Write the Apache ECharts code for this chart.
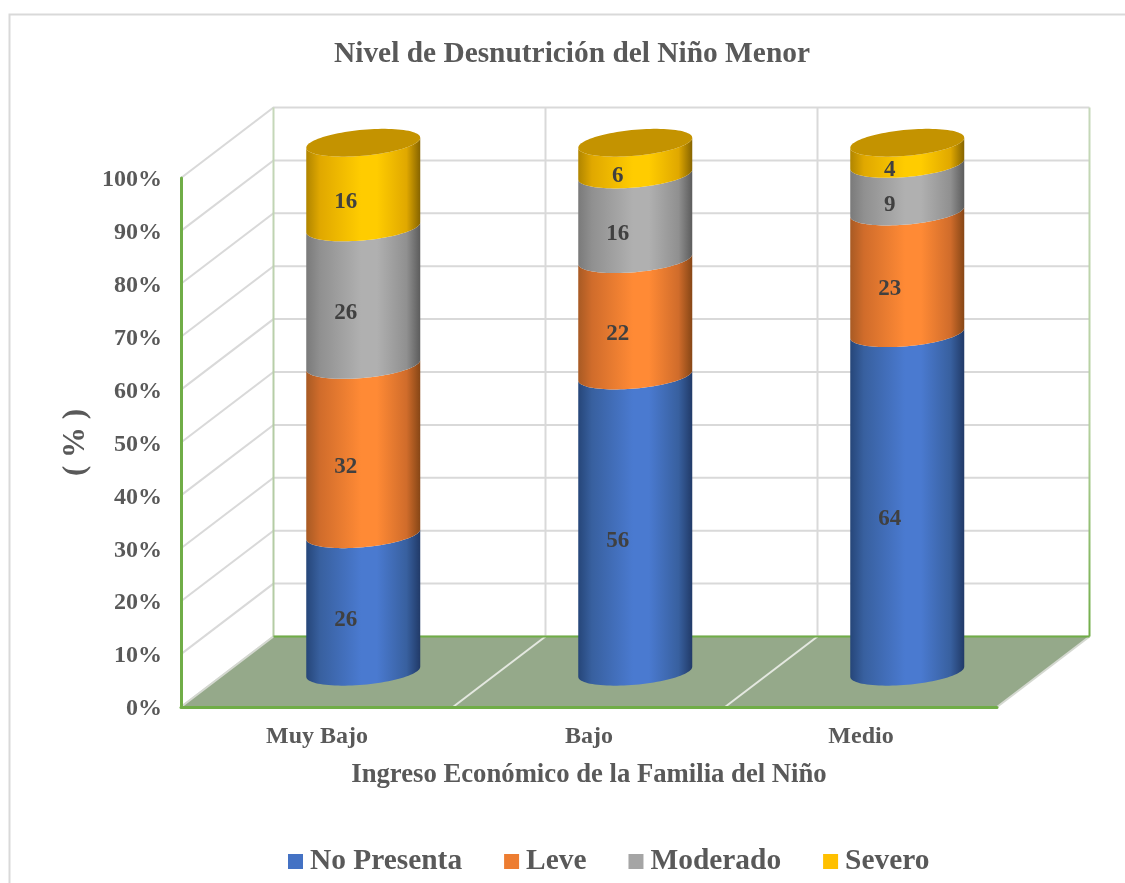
<!DOCTYPE html>
<html>
<head>
<meta charset="utf-8">
<style>html,body{margin:0;padding:0;background:#fff}#chart{width:1125px;height:883px}</style>
<script src="https://cdn.jsdelivr.net/npm/echarts@6/dist/echarts.min.js"></script>
</head>
<body>
<div id="chart"></div>
<script>
const categories = ['Muy Bajo', 'Bajo', 'Medio'];
const noPresenta = [26, 56, 64];
const leve = [32, 22, 23];
const moderado = [26, 16, 9];
const severo = [16, 6, 4];
const yTicks = [0, 10, 20, 30, 40, 50, 60, 70, 80, 90, 100];

const FONT = '"Liberation Serif", "Times New Roman", serif';
const TEXT = '#595959';
const GREEN = '#70AD47';
const GRID_LINE = '#D9D9D9';

// Oblique projection: how far the back wall sits from the front plane.
const DEPTH_X = 92.5;
const DEPTH_Y = -70.5;
const RX = 57;      // cylinder radius
const RY = 13;      // ellipse half height
const SHEAR = 5;    // vertical tilt of the ellipse at its left and right ends

function stops(edgeL, mid, edgeR) {
  return new echarts.graphic.LinearGradient(0, 0, 1, 0, [
    { offset: 0, color: edgeL },
    { offset: 0.12, color: mid[0] },
    { offset: 0.48, color: mid[1] },
    { offset: 0.62, color: mid[1] },
    { offset: 0.88, color: mid[0] },
    { offset: 1, color: edgeR }
  ]);
}

const levels = [
  { name: 'No Presenta', values: noPresenta, color: '#4472C4', fill: stops('#264679', ['#38609f', '#4a7ad0'], '#213a68') },
  { name: 'Leve', values: leve, color: '#ED7D31', fill: stops('#a85a24', ['#d06c2b', '#ff8a35'], '#864616') },
  { name: 'Moderado', values: moderado, color: '#A5A5A5', fill: stops('#7a7a7a', ['#909090', '#b0b0b0'], '#5c5c5c') },
  { name: 'Severo', values: severo, color: '#FFC000', fill: stops('#b08500', ['#e0a800', '#ffcc00'], '#866400') }
];

// Front half of a tilted ellipse, left to right.
function frontArc(cx, cy) {
  const pts = [];
  for (let k = 0; k <= 48; k++) {
    const t = Math.PI - (Math.PI * k) / 48;
    const c = Math.cos(t);
    pts.push([cx + RX * c, cy + RY * Math.sin(t) - SHEAR * c]);
  }
  return pts;
}

// Back half of the same ellipse, right to left.
function backArc(cx, cy) {
  const pts = [];
  for (let k = 0; k <= 48; k++) {
    const t = (Math.PI * k) / 48;
    const c = Math.cos(t);
    pts.push([cx + RX * c, cy - RY * Math.sin(t) - SHEAR * c]);
  }
  return pts;
}

function cylinderSeries(level, index) {
  const data = level.values.map((v, i) => {
    let base = 0;
    for (let j = 0; j < index; j++) base += levels[j].values[i];
    return [i, base, base + v, v];
  });
  return {
    type: 'custom',
    name: level.name,
    itemStyle: { color: level.color },
    encode: { x: 0, y: 2 },
    clip: false,
    z: 5 + index,
    data,
    renderItem(params, api) {
      const low = api.coord([api.value(0), api.value(1)]);
      const high = api.coord([api.value(0), api.value(2)]);
      const cx = low[0] + DEPTH_X / 2;
      const yLow = low[1] + DEPTH_Y / 2;
      const yHigh = high[1] + DEPTH_Y / 2;
      const top = frontArc(cx, yHigh);
      const bottom = frontArc(cx, yLow).reverse();
      const children = [{
        type: 'polygon',
        shape: { points: top.concat(bottom) },
        style: { fill: level.fill }
      }];
      if (index === levels.length - 1) {
        children.push({
          type: 'polygon',
          shape: { points: frontArc(cx, yHigh).concat(backArc(cx, yHigh)) },
          style: { fill: '#C49300' }
        });
      }
      children.push({
        type: 'text',
        style: {
          text: String(api.value(3)),
          x: cx - 17.5,
          y: (yLow + yHigh) / 2 + 17,
          align: 'center',
          verticalAlign: 'middle',
          font: 'bold 23px ' + FONT,
          fill: '#404040'
        }
      });
      return { type: 'group', children };
    }
  };
}

// Side wall and back wall rules, one per axis tick.
const wallRules = {
  type: 'custom',
  name: 'rules',
  silent: true,
  clip: false,
  z: 2,
  encode: { y: 0 },
  data: yTicks.map(t => [t]),
  renderItem(params, api) {
    const sys = params.coordSys;
    const y = api.coord([0, api.value(0)])[1];
    return {
      type: 'polyline',
      shape: { points: [[sys.x, y], [sys.x + DEPTH_X, y + DEPTH_Y], [sys.x + sys.width + DEPTH_X, y + DEPTH_Y]] },
      style: { stroke: GRID_LINE, lineWidth: 2, fill: null }
    };
  }
};

// Floor plate and the lines that divide the categories.
const floorPlate = {
  type: 'custom',
  name: 'floor',
  silent: true,
  clip: false,
  z: 3,
  data: [[0]],
  encode: { x: 0 },
  renderItem(params) {
    const s = params.coordSys;
    const x0 = s.x, x1 = s.x + s.width, y0 = s.y + s.height, yT = s.y + DEPTH_Y;
    const step = s.width / categories.length;
    const children = [{
      type: 'polygon',
      shape: { points: [[x0, y0], [x1, y0], [x1 + DEPTH_X, y0 + DEPTH_Y], [x0 + DEPTH_X, y0 + DEPTH_Y]] },
      style: { fill: '#95A98A' }
    }];
    for (let i = 0; i <= categories.length; i++) {
      const x = x0 + step * i;
      const edge = i === 0 || i === categories.length;
      children.push({
        type: 'line',
        shape: { x1: x, y1: y0, x2: x + DEPTH_X, y2: y0 + DEPTH_Y },
        style: { stroke: edge ? '#D4D8D0' : '#E4E8E0', lineWidth: 2 }
      });
      children.push({
        type: 'line',
        shape: { x1: x + DEPTH_X, y1: yT, x2: x + DEPTH_X, y2: y0 + DEPTH_Y },
        style: {
          stroke: edge
            ? new echarts.graphic.LinearGradient(0, 0, 0, 1, [
                { offset: 0, color: '#C6D8BA' },
                { offset: 0.6, color: i === 0 ? '#B4CCA4' : '#B4D09E' },
                { offset: 1, color: i === 0 ? '#B4CCA4' : GREEN }
              ])
            : GRID_LINE,
          lineWidth: 2
        }
      });
    }
    children.push({
      type: 'line',
      shape: { x1: x0 + DEPTH_X, y1: y0 + DEPTH_Y, x2: x1 + DEPTH_X, y2: y0 + DEPTH_Y },
      style: { stroke: GREEN, lineWidth: 2 }
    });
    return { type: 'group', children };
  }
};

const chart = echarts.init(document.getElementById('chart'), null, { renderer: 'canvas' });
chart.setOption({
  animation: false,
  backgroundColor: '#fff',
  title: {
    text: 'Nivel de Desnutrición del Niño Menor',
    left: 567,
    top: 35,
    textAlign: 'center',
    textStyle: { fontFamily: FONT, fontWeight: 'bold', fontSize: 29.4, color: TEXT }
  },
  grid: { left: 181, top: 178, width: 816, height: 529 },
  legend: {
    left: 283,
    top: 842,
    icon: 'rect',
    itemWidth: 15,
    itemHeight: 15,
    itemGap: 42,
    selectedMode: false,
    data: levels.map(l => l.name),
    textStyle: { fontFamily: FONT, fontWeight: 'bold', fontSize: 29.4, color: TEXT, padding: [0, 0, 0, 2] }
  },
  xAxis: {
    type: 'category',
    data: categories,
    name: 'Ingreso Económico de la Familia del Niño',
    nameLocation: 'middle',
    nameGap: 55,
    nameTextStyle: { fontFamily: FONT, fontWeight: 'bold', fontSize: 26.7, color: TEXT },
    axisLine: { show: true, lineStyle: { color: GREEN, width: 3 } },
    axisTick: { show: false },
    axisLabel: { margin: 18, fontFamily: FONT, fontWeight: 'bold', fontSize: 24, color: TEXT },
    z: 4
  },
  yAxis: {
    type: 'value',
    min: 0,
    max: 100,
    interval: 10,
    name: '( % )',
    nameLocation: 'middle',
    nameGap: 84,
    nameTextStyle: { fontFamily: FONT, fontWeight: 'bold', fontSize: 31, color: TEXT },
    splitLine: { show: false },
    axisTick: { show: false },
    axisLine: { show: true, lineStyle: { color: GREEN, width: 3 } },
    axisLabel: {
      margin: 19,
      formatter: '{t|{value}%}',
      rich: {
        // Taller line box with bottom alignment sets the label just under its tick.
        t: { fontFamily: FONT, fontWeight: 'bold', fontSize: 24, color: TEXT, lineHeight: 28, verticalAlign: 'bottom' }
      }
    },
    z: 4
  },
  graphic: [{
    type: 'polyline',
    silent: true,
    z: -1,
    shape: { points: [[9.5, 883], [9.5, 14.5], [1125, 14.5]] },
    style: { stroke: '#D9D9D9', lineWidth: 2, fill: null }
  }],
  series: [wallRules, floorPlate].concat(levels.map(cylinderSeries))
});
</script>
</body>
</html>
